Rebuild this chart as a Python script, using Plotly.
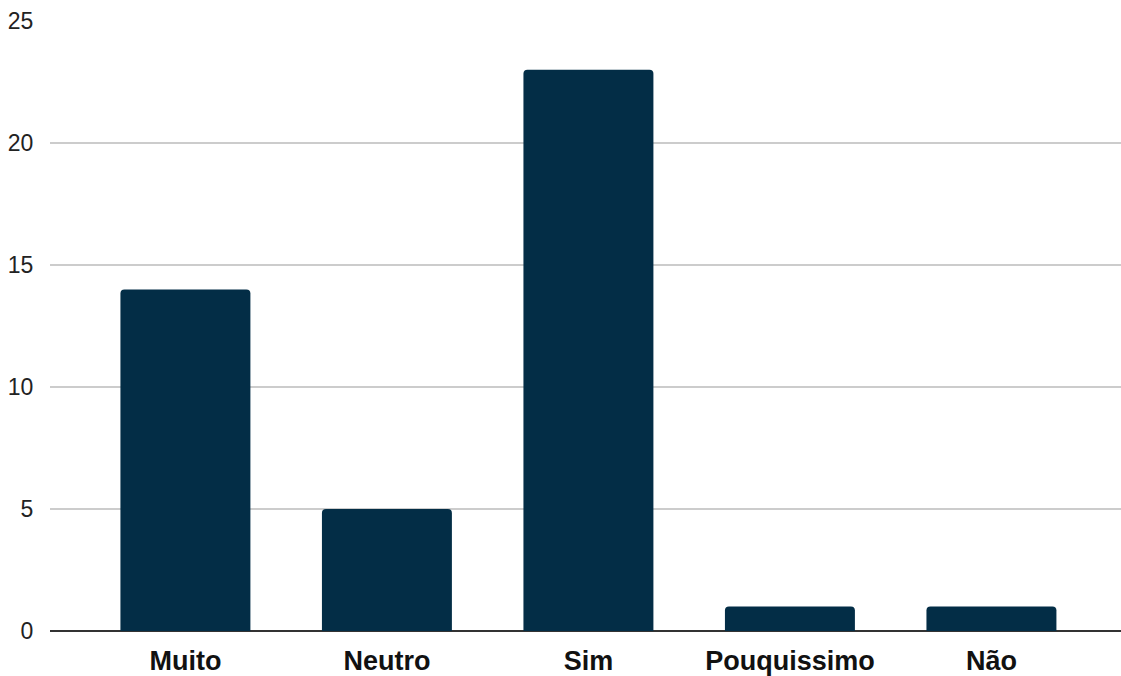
import plotly.graph_objects as go

categories = ["Muito", "Neutro", "Sim", "Pouquissimo", "Não"]
counts = [14, 5, 23, 1, 1]
y_ticks = [0, 5, 10, 15, 20, 25]

fig = go.Figure(
    go.Bar(
        x=categories,
        y=counts,
        marker=dict(color="#032d46", cornerradius=4, line=dict(width=0)),
        width=0.645,
    )
)

fig.update_layout(
    width=1121,
    height=676,
    margin=dict(l=50, r=0, t=21, b=45),
    paper_bgcolor="white",
    plot_bgcolor="white",
    showlegend=False,
    font=dict(family="Liberation Sans, Arial, sans-serif"),
)

fig.update_xaxes(
    range=[-0.672, 4.643],
    showgrid=False,
    showline=False,
    ticks="",
    tickfont=dict(size=27, color="#111111", family="Liberation Sans, Arial, sans-serif", weight="bold"),
    ticklabelstandoff=11,
)

fig.update_yaxes(
    range=[0, 25],
    tickvals=y_ticks,
    showgrid=True,
    gridcolor="#cccccc",
    gridwidth=2,
    zeroline=True,
    zerolinecolor="#333333",
    zerolinewidth=2,
    showline=False,
    ticks="outside",
    ticklen=11,
    tickcolor="rgba(0,0,0,0)",
    tickfont=dict(size=23, color="#222222"),
)

fig.write_html("out.html")
